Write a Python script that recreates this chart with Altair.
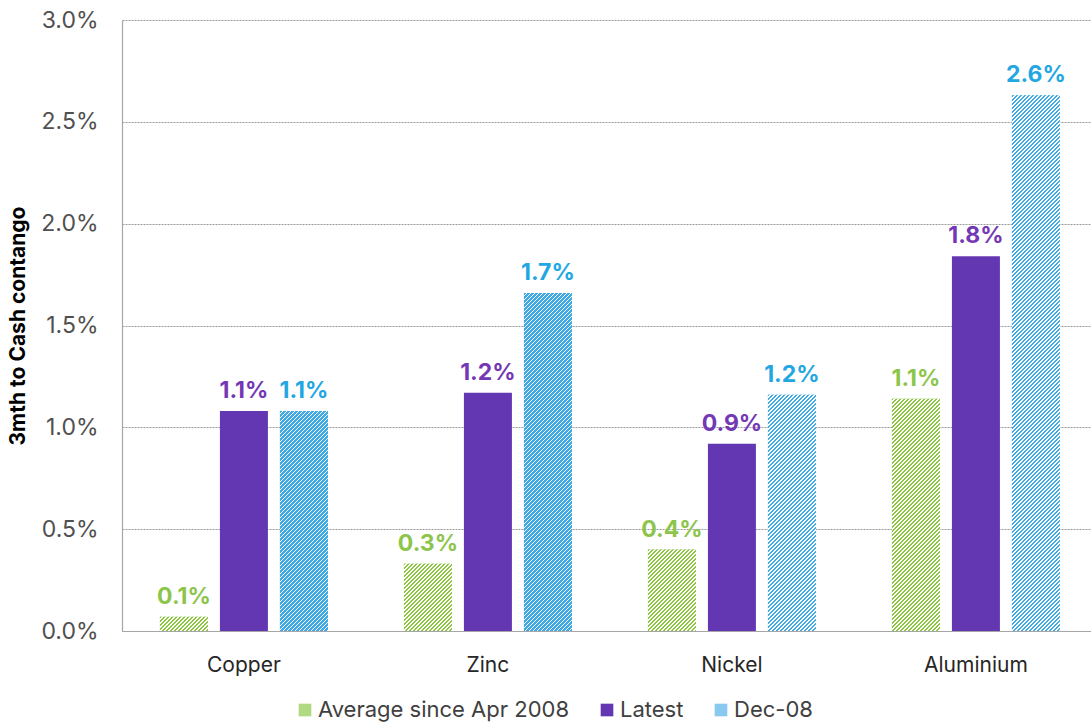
import math
import altair as alt
import pandas as pd

# Metals and the three contango series (values in percent)
metals = ["Copper", "Zinc", "Nickel", "Aluminium"]
series = ["Average since Apr 2008", "Latest", "Dec-08"]
avg_since_2008 = [0.07, 0.33, 0.40, 1.14]
latest = [1.08, 1.17, 0.92, 1.84]
dec_08 = [1.08, 1.66, 1.16, 2.63]

# Styling
FONT = "Inter"
GREEN = "#8cc540"
PURPLE = "#6437b2"
BLUE = "#3fa9e6"
LABEL_COLORS = ["#8cc54a", "#7437b5", "#22a7e2"]
LEGEND_COLORS = ["#b0d982", PURPLE, "#88c9f0"]
Y_MAX = 3.0
PLOT_W, PLOT_H = 969, 611
BAR_W = 48
HATCH_PERIOD = 4 / math.sqrt(2)  # 4 px horizontally between stripes
HATCH_INK = 0.55                 # share of each period that is coloured

rows = []
for i, m in enumerate(metals):
    for s, vals in zip(series, [avg_since_2008, latest, dec_08]):
        rows.append({"metal": m, "series": s, "value": vals[i]})
df = pd.DataFrame(rows)


def hatch(color, value):
    """Linear gradient with hard stops that reads as '///' hatching on a bar."""
    h = max(value / Y_MAX * PLOT_H, 1.0)
    a = BAR_W / h
    span = (BAR_W + h) / math.sqrt(2)
    n = max(1, math.ceil(span / HATCH_PERIOD))
    # stretch the gradient vector so that every stripe period is exactly HATCH_PERIOD
    k = (a + 1) / (a * a + 1) * (n * HATCH_PERIOD / span)
    stops = []
    for i in range(n):
        o0, o1, o2 = i / n, (i + HATCH_INK) / n, (i + 1) / n
        stops += [
            {"offset": round(o0, 5), "color": color},
            {"offset": round(o1, 5), "color": color},
            {"offset": round(o1, 5), "color": "#ffffff"},
            {"offset": round(o2, 5), "color": "#ffffff"},
        ]
    return {"gradient": "linear", "x1": 0, "y1": 0,
            "x2": round(k * a, 5), "y2": round(k, 5), "stops": stops}


x_enc = alt.X(
    "metal:N",
    sort=metals,
    scale=alt.Scale(domain=metals, paddingInner=0.2623, paddingOuter=0.1168, align=0.56),
    axis=alt.Axis(title=None, labelAngle=0, labelFontSize=21, labelColor="#262626",
                  labelPadding=23, ticks=False, domainColor="#a6a6a6", domainWidth=1.2),
)
xoff_enc = alt.XOffset(
    "series:N",
    scale=alt.Scale(domain=series, paddingInner=0.2, paddingOuter=0.1),
)
y_enc = alt.Y(
    "value:Q",
    scale=alt.Scale(domain=[0, Y_MAX], nice=False),
    axis=alt.Axis(
        values=[0, 0.5, 1.0, 1.5, 2.0, 2.5, 3.0],
        labelExpr="format(datum.value, '.1f') + '%'",
        labelFontSize=23, labelColor="#505050", labelPadding=24, ticks=False,
        grid=True, gridColor="#9a9a9a", gridDash=[2, 1], gridWidth=1,
        domainColor="#a6a6a6", domainWidth=1.2,
        title="3mth to Cash contango", titleFontSize=21, titleFontWeight="bold",
        titleColor="#000000", titleAngle=270, titleX=-104, titleY=PLOT_H / 2,
        titleAlign="center", titleBaseline="middle",
    ),
)

base = alt.Chart(df)

bars = base.mark_bar().encode(
    x=x_enc, xOffset=xoff_enc, y=y_enc,
    color=alt.Color(
        "series:N",
        scale=alt.Scale(domain=series, range=LEGEND_COLORS),
        legend=alt.Legend(
            title=None, orient="none", legendX=172, legendY=679, direction="horizontal",
            symbolType="square", symbolSize=160, symbolStrokeWidth=0,
            labelFontSize=22, labelColor="#404040", labelOffset=2, labelLimit=400,
            columnPadding=26,
        ),
    ),
)

# Hatched overlays for the two patterned series
hatch_layers = []
for s, col, vals in [(series[0], GREEN, avg_since_2008), (series[2], BLUE, dec_08)]:
    for m, v in zip(metals, vals):
        hatch_layers.append(
            base.transform_filter(
                (alt.datum.metal == m) & (alt.datum.series == s)
            ).mark_bar().encode(
                x=x_enc, xOffset=xoff_enc, y=y_enc, fill=alt.value(hatch(col, v))
            )
        )

labels = base.transform_calculate(
    label="format(datum.value, '.1f') + '%'"
).mark_text(
    fontSize=23, fontWeight="bold", baseline="alphabetic", dy=-13
).encode(
    x=x_enc, xOffset=xoff_enc, y=y_enc, text="label:N",
    color=alt.Color("series:N", scale=alt.Scale(domain=series, range=LABEL_COLORS), legend=None),
)

chart = alt.layer(bars, *hatch_layers, labels).resolve_scale(
    color="independent"
).properties(
    width=PLOT_W, height=PLOT_H,
    autosize=alt.AutoSizeParams(type="none"),
    padding={"left": 122, "top": 20, "right": 0, "bottom": 91},
).configure(
    font=FONT,
).configure_view(
    stroke=None,
)

chart.save("out.html", embed_options={"renderer": "svg", "actions": False})
